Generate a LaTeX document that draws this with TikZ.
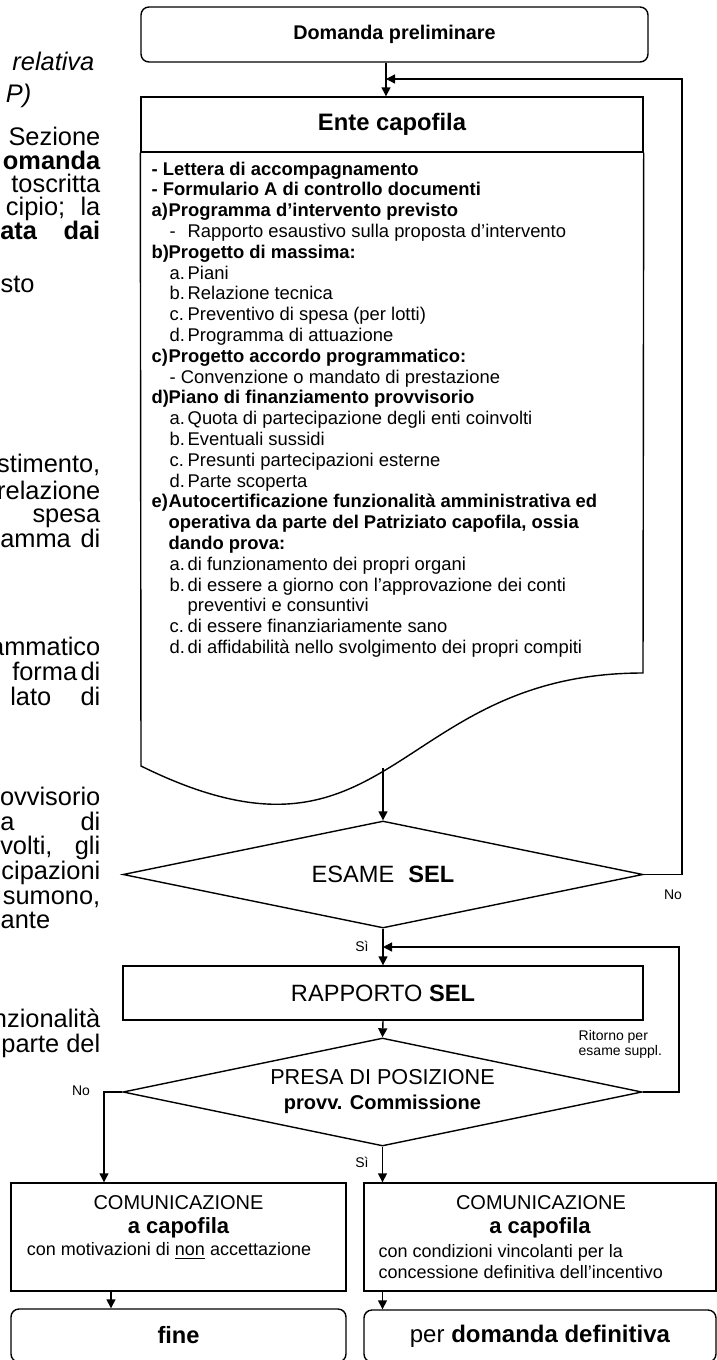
\documentclass[tikz,border=0pt]{standalone}
\usepackage{fontspec}
\setmainfont{Liberation Sans}
\usetikzlibrary{shapes.geometric,arrows.meta}

\newcommand{\itemlab}[1]{\makebox[8.5pt][l]{#1}}
\newcommand{\sublab}[1]{\hspace*{9pt}\makebox[9pt][l]{#1}}

\tikzset{
  box/.style={draw, rectangle, inner sep=0pt},
  rbox/.style={box, rounded corners=4pt},
  decision/.style={draw, diamond, aspect=4.8, inner sep=0pt},
  arr/.style={-{Triangle[length=4.5pt,width=4.5pt]}},
  doctext/.style={anchor=base west, inner sep=0pt, font=\fontsize{9.2}{10.4}\selectfont},
  sidetext/.style={anchor=base east, inner sep=0pt, font=\fontsize{12.7}{14}\selectfont},
  tag/.style={inner sep=0pt, font=\fontsize{7}{7.5}\selectfont},
}

\begin{document}
\begin{tikzpicture}[x=0.5pt, y=-0.5pt, line width=0.7pt]
\useasboundingbox (0,0) rectangle (717,1360);

% cut text of the page on the left
\node[sidetext, font=\itshape\fontsize{12.7}{14}\selectfont] (s1) at (95,70) {relativa};
\node[sidetext, font=\itshape\fontsize{12.7}{14}\selectfont] (s2) at (32,102) {P)};
\node[sidetext] (s3) at (101,145) {Sezione};
\node[sidetext, font=\bfseries\fontsize{12.7}{14}\selectfont] (s4) at (101,169) {omanda};
\node[sidetext] (s5) at (101,192) {toscritta};
\node[sidetext] (s6) at (101,215) {cipio;\hspace{0.6em}la};
\node[sidetext, font=\bfseries\fontsize{12.7}{14}\selectfont] (s7) at (101,239) {\makebox[50pt][s]{ata\hfill dai}};
\node[sidetext, anchor=base west] (s8) at (0,292) {sto};
\node[sidetext] (s9) at (101,472) {stimento,};
\node[sidetext] (s10) at (101,499) {relazione};
\node[sidetext] (s11) at (101,522) {spesa};
\node[sidetext] (s12) at (101,547) {\makebox[50pt][s]{amma\hfill di}};
\node[sidetext] (s13) at (101,655) {ammatico};
\node[sidetext] (s14) at (101,680) {\makebox[44pt][s]{forma\hfill di}};
\node[sidetext] (s15) at (101,705) {\makebox[45pt][s]{lato\hfill di}};
\node[sidetext] (s16) at (101,805) {ovvisorio};
\node[sidetext] (s17) at (101,830) {\makebox[50pt][s]{a\hfill di}};
\node[sidetext] (s18) at (101,854) {\makebox[50pt][s]{volti,\hfill gli}};
\node[sidetext] (s19) at (101,879) {cipazioni};
\node[sidetext] (s20) at (101,904) {sumono,};
\node[sidetext, anchor=base west] (s21) at (0,928) {ante};
\node[sidetext] (s22) at (101,1027) {nzionalità};
\node[sidetext] (s23) at (101,1052) {parte del};

% top of the flow
\node[rbox, minimum width=253.5pt, minimum height=27.5pt, font=\bfseries\fontsize{9.9}{12}\selectfont] (dom) at (394.5,34.5) {Domanda preliminare};
\node[box, minimum width=251pt, minimum height=27.5pt, font=\bfseries\fontsize{11.9}{14}\selectfont] (ente) at (392,124.5) {Ente capofila};
\draw (ente.south west) -- (141,766) .. controls (392,890) and (392,673) .. (643,673) -- (ente.south east);
\coordinate (docout) at (383,768);
\coordinate (c1) at (386,0);

\foreach \txt [count=\i from 0] in {
  {\textbf{- Lettera di accompagnamento}},
  {\textbf{- Formulario A di controllo documenti}},
  {\textbf{\itemlab{a)}Programma d’intervento previsto}},
  {\sublab{-}Rapporto esaustivo sulla proposta d’intervento},
  {\textbf{\itemlab{b)}Progetto di massima:}},
  {\sublab{a.}Piani},
  {\sublab{b.}Relazione tecnica},
  {\sublab{c.}Preventivo di spesa (per lotti)},
  {\sublab{d.}Programma di attuazione},
  {\textbf{\itemlab{c)}Progetto accordo programmatico:}},
  {\hspace*{9pt}- Convenzione o mandato di prestazione},
  {\textbf{\itemlab{d)}Piano di finanziamento provvisorio}},
  {\sublab{a.}Quota di partecipazione degli enti coinvolti},
  {\sublab{b.}Eventuali sussidi},
  {\sublab{c.}Presunti partecipazioni esterne},
  {\sublab{d.}Parte scoperta},
  {\textbf{\itemlab{e)}Autocertificazione funzionalità amministrativa ed}},
  {\textbf{\hspace*{8.5pt}operativa da parte del Patriziato capofila, ossia}},
  {\textbf{\hspace*{8.5pt}dando prova:}},
  {\sublab{a.}di funzionamento dei propri organi},
  {\sublab{b.}di essere a giorno con l’approvazione dei conti},
  {\hspace*{18pt}preventivi e consuntivi},
  {\sublab{c.}di essere finanziariamente sano},
  {\sublab{d.}di affidabilità nello svolgimento dei propri compiti}}
  {\node[doctext] (line\i) at (151,{175+20.8*\i}) {\txt};}

% checks
\node[decision, minimum width=260pt, minimum height=53.5pt, font=\fontsize{11.8}{14}\selectfont] (esame) at (383,874.5) {ESAME\hspace{0.6em}\textbf{SEL}};
\node[box, minimum width=260pt, minimum height=27pt, font=\fontsize{11.8}{14}\selectfont] (rapp) at (383,993) {RAPPORTO \textbf{SEL}};
\node[decision, minimum width=259.5pt, minimum height=54pt, align=center, font=\fontsize{10.8}{12.5}\selectfont] (presa) at (382.5,1092) {PRESA DI POSIZIONE\\\textbf{\fontsize{10}{12}\selectfont provv. Commissione}};

% answers
\node[box, minimum width=167.5pt, minimum height=54pt] (comno) at (178.5,1237) {};
\node[box, minimum width=176pt, minimum height=54pt] (comsi) at (540,1237) {};
\node[inner sep=0pt, font=\fontsize{10}{12}\selectfont] (comnoa) at (178.5,1203) {COMUNICAZIONE};
\node[inner sep=0pt, font=\bfseries\fontsize{11}{13}\selectfont] (comnob) at (178.5,1228) {a capofila};
\node[inner sep=0pt, font=\fontsize{9}{10.5}\selectfont] (comnoc) at (169,1251) {con motivazioni di \underline{non} accettazione};
\node[inner sep=0pt, font=\fontsize{10}{12}\selectfont] (comsia) at (541,1203) {COMUNICAZIONE};
\node[inner sep=0pt, font=\bfseries\fontsize{11}{13}\selectfont] (comsib) at (540,1228) {a capofila};
\node[inner sep=0pt, anchor=west, align=left, font=\fontsize{9}{10.5}\selectfont] (comsic) at (378,1261.5) {con condizioni vincolanti per la\\concessione definitiva dell’incentivo};
\node[rbox, minimum width=167.5pt, minimum height=26.5pt, font=\bfseries\fontsize{11.8}{14}\selectfont] (fine) at (178.5,1335.5) {fine};
\node[rbox, minimum width=176pt, minimum height=26pt, font=\fontsize{12}{14}\selectfont] (domdef) at (540,1336) {per \textbf{domanda definitiva}};

% arrows
\draw[arr] (dom.south -| c1) -- (ente.north -| c1);
\draw[arr] (docout) -- (esame.north);
\draw[arr] (esame.south) -- (rapp.north);
\draw[arr] (rapp.south) -- (presa.north);
\draw[arr] (presa.south) -- (presa.south |- comsi.north);
\coordinate (noleft) at (104,1092);
\draw[arr] (presa.west) -- (noleft) -- (noleft |- comno.north);
\coordinate (c2) at (111,0);
\draw[arr] (comno.south -| c2) -- (fine.north -| c2);
\draw[arr] (comsi.south -| presa.south) -- (domdef.north -| presa.south);
\coordinate (loopa) at (682,79);
\draw[arr] (esame.east) -| (loopa) -- (loopa -| c1);
\coordinate (loopb) at (679,947);
\draw[arr] (presa.east) -| (loopb) -- (loopb -| rapp.north);

\node[tag] (noa) at (673,895) {No};
\node[tag] (sia) at (362,946) {Sì};
\node[tag] (sib) at (362,1162) {Sì};
\node[tag] (nob) at (81,1091) {No};
\node[tag, anchor=north west, align=left] (ritorno) at (578,1030) {Ritorno per\\esame suppl.};
\end{tikzpicture}
\end{document}
